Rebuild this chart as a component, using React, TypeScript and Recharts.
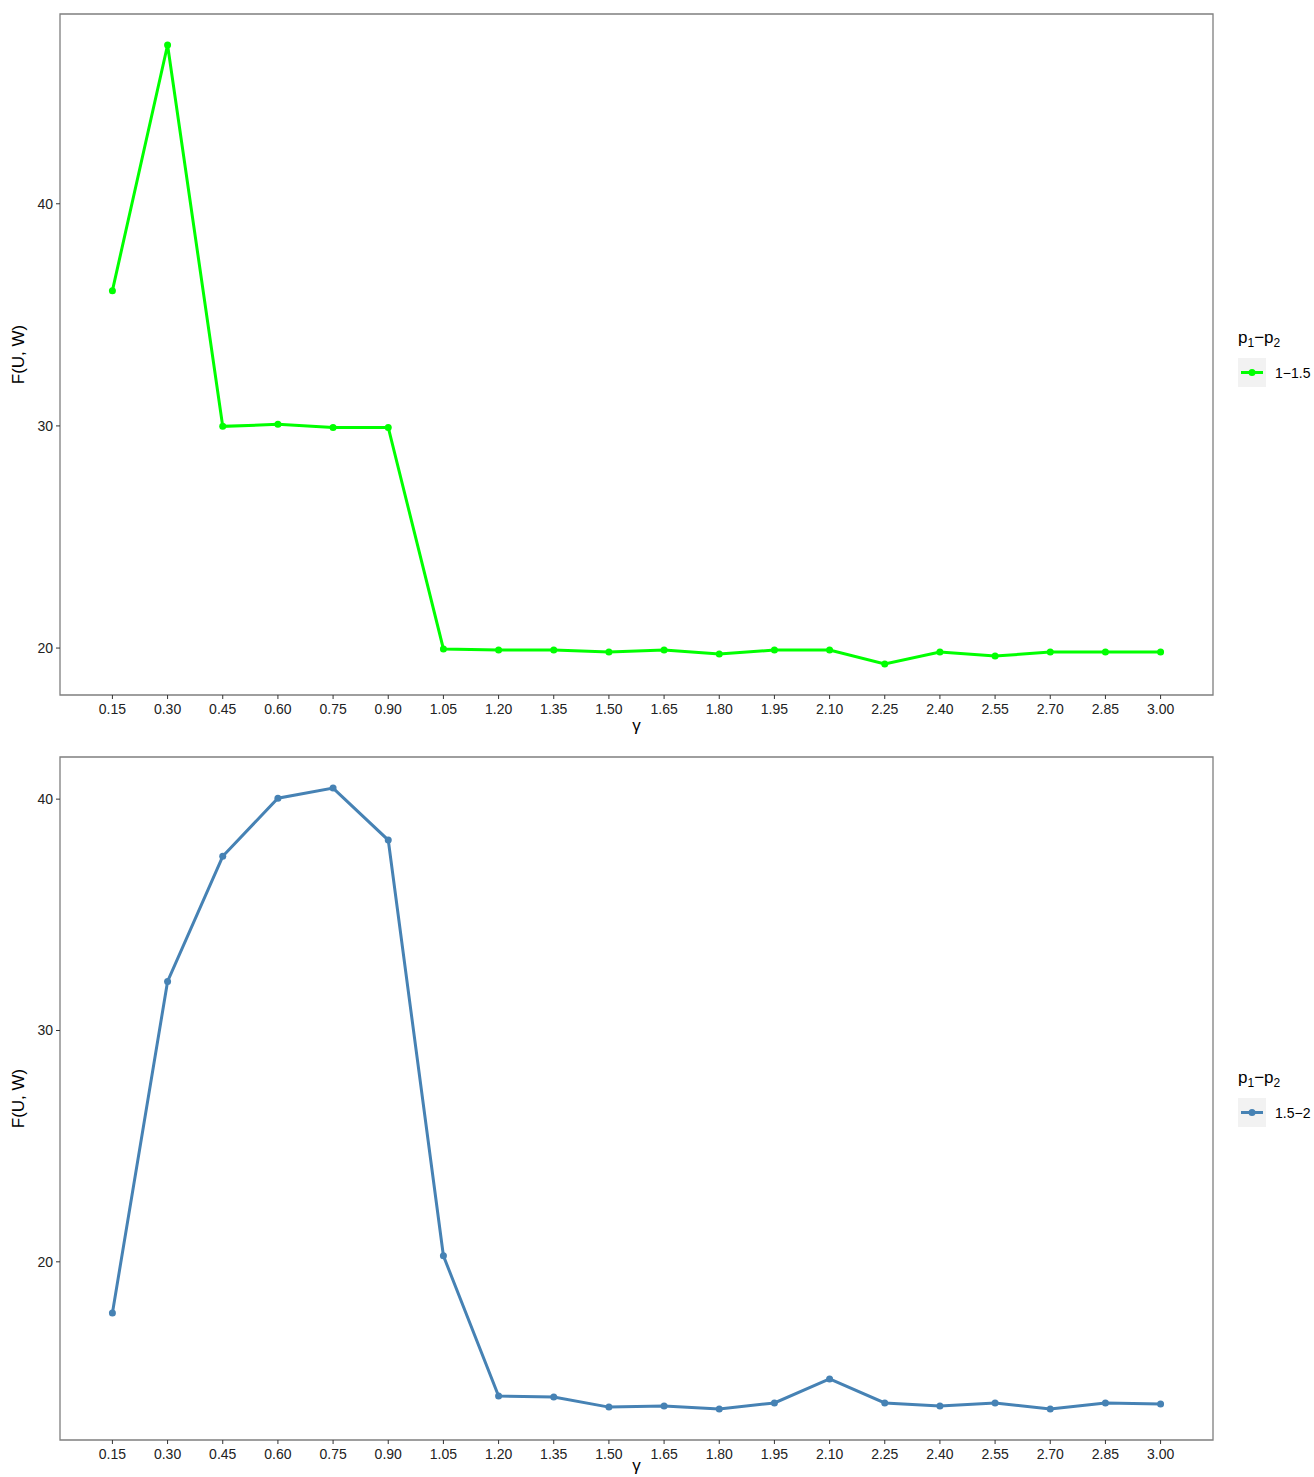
import { LineChart, Line, XAxis, YAxis, ReferenceArea, Legend } from 'recharts';

// gamma grid shared by both panels
const gamma = [0.15, 0.3, 0.45, 0.6, 0.75, 0.9, 1.05, 1.2, 1.35, 1.5, 1.65, 1.8, 1.95, 2.1, 2.25, 2.4, 2.55, 2.7, 2.85, 3.0];

// F(U, W) for p1-p2 = 1-1.5
const fTop = [36.09, 47.15, 29.98, 30.07, 29.93, 29.93, 19.96, 19.91, 19.91, 19.82, 19.91, 19.73, 19.91, 19.91, 19.28, 19.82, 19.64, 19.82, 19.82, 19.82];

// F(U, W) for p1-p2 = 1.5-2
const fBottom = [17.79, 32.12, 37.53, 40.04, 40.48, 38.23, 20.26, 14.2, 14.16, 13.72, 13.77, 13.64, 13.9, 14.94, 13.9, 13.77, 13.9, 13.64, 13.9, 13.85];

const yTicks = [20, 30, 40];
const topLabel = '1\u22121.5';
const bottomLabel = '1.5\u22122';

const FONT = '"Liberation Sans", Arial, sans-serif';

// ggplot-style 5% expansion
const expand = (vals: number[]): [number, number] => {
  const lo = Math.min(...vals);
  const hi = Math.max(...vals);
  const pad = (hi - lo) * 0.05;
  return [lo - pad, hi + pad];
};

const xDomain = expand(gamma);

function LegendBox({ color, label }: { color: string; label: string }) {
  return (
    <div style={{ fontFamily: FONT, color: '#000' }}>
      <div style={{ fontSize: 17, lineHeight: '20px', marginBottom: 5 }}>
        p<sub style={{ fontSize: 12 }}>1</sub>{'\u2212'}p<sub style={{ fontSize: 12 }}>2</sub>
      </div>
      <div style={{ display: 'flex', alignItems: 'center' }}>
        <svg width={28} height={29}>
          <rect x={0} y={0} width={28} height={29} fill="#f2f2f2" />
          <line x1={3} y1={14.5} x2={25} y2={14.5} stroke={color} strokeWidth={3} />
          <circle cx={14} cy={14.5} r={3.5} fill={color} />
        </svg>
        <span style={{ fontSize: 14, marginLeft: 9 }}>{label}</span>
      </div>
    </div>
  );
}

interface PanelProps {
  values: number[];
  color: string;
  label: string;
  height: number;
  top: number;
  axisHeight: number;
  gammaOffset: number;
}

function Panel({ values, color, label, height, top, axisHeight, gammaOffset }: PanelProps) {
  const data = gamma.map((g, i) => ({ gamma: g, f: values[i] }));
  const yDomain = expand(values);
  return (
    <LineChart width={1314} height={height} data={data} margin={{ top, right: 101, bottom: 0, left: 0 }}>
      <XAxis
        type="number"
        dataKey="gamma"
        domain={xDomain}
        ticks={gamma}
        allowDataOverflow
        axisLine={false}
        tickLine={{ stroke: '#333' }}
        tickSize={4}
        tickMargin={5}
        height={axisHeight}
        tickFormatter={(v: number) => v.toFixed(2)}
        tick={{ fontSize: 14, fill: '#222', fontFamily: FONT }}
        label={{ value: '\u03b3', position: 'insideBottom', offset: gammaOffset, style: { fontSize: 17, fill: '#000', fontFamily: FONT } }}
      />
      <YAxis
        type="number"
        domain={yDomain}
        ticks={yTicks}
        allowDataOverflow
        axisLine={false}
        tickLine={{ stroke: '#333' }}
        tickSize={4}
        tickMargin={3}
        width={60}
        tick={{ fontSize: 14, fill: '#222', fontFamily: FONT }}
        label={{ value: 'F(U, W)', angle: -90, position: 'insideLeft', offset: 18, style: { textAnchor: 'middle', fontSize: 17, fill: '#000', fontFamily: FONT } }}
      />
      <ReferenceArea
        x1={xDomain[0]}
        x2={xDomain[1]}
        y1={yDomain[0]}
        y2={yDomain[1]}
        fill="none"
        stroke="#7f7f7f"
        strokeWidth={1.3}
        ifOverflow="visible"
      />
      <Legend
        layout="horizontal"
        verticalAlign="middle"
        align="center"
        wrapperStyle={{ position: 'absolute', left: 1238, top: 328, width: 76 }}
        content={() => <LegendBox color={color} label={label} />}
      />
      <Line
        type="linear"
        dataKey="f"
        stroke={color}
        strokeWidth={3}
        dot={{ r: 3.5, fill: color, stroke: color, strokeWidth: 0 }}
        activeDot={false}
        isAnimationActive={false}
      />
    </LineChart>
  );
}

export default function App() {
  return (
    <div style={{ position: 'absolute', left: 0, top: 0, width: 1314, height: 1477, overflow: 'hidden', background: '#fff', fontFamily: FONT }}>
      <Panel values={fTop} color="#00ff00" label={topLabel} height={740} top={14} axisHeight={45} gammaOffset={9} />
      <Panel values={fBottom} color="#4682b4" label={bottomLabel} height={737} top={17} axisHeight={37} gammaOffset={6} />
    </div>
  );
}
